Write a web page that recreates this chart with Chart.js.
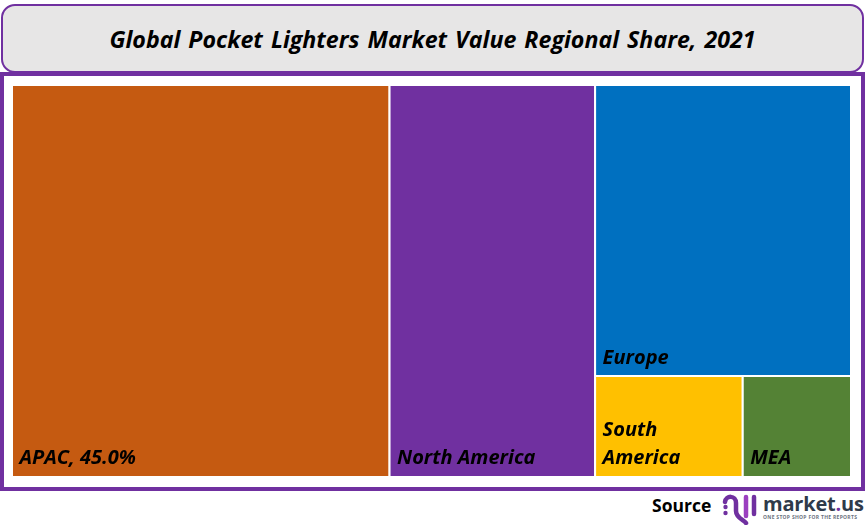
<!DOCTYPE html>
<html>
<head>
<meta charset="utf-8">
<title>Global Pocket Lighters Market Value Regional Share, 2021</title>
<script src="https://cdn.jsdelivr.net/npm/chart.js@4"></script>
<style>
  html, body { margin: 0; padding: 0; background: #fff; width: 865px; height: 525px; overflow: hidden; }
  body { position: relative; font-family: "Open Sans", sans-serif; }
  #titleBox { position: absolute; left: 1px; top: 4px; width: 859px; height: 65px; border: 2px solid #7030A0;
    border-radius: 14px; background: #E7E6E6; text-align: center; line-height: 67px;
    font-size: 23.2px; font-weight: 700; font-style: italic; color: #000; word-spacing: 2px; }
  #frame { position: absolute; left: 0; top: 72px; width: 857px; height: 411px; border: 4px solid #7030A0; }
  #chartWrap { position: absolute; left: 12px; top: 85px; width: 839px; height: 391px; }
  #source { position: absolute; left: 652px; top: 493px; font-size: 17.5px; font-weight: 700; color: #000; }
  #logo { position: absolute; left: 722px; top: 492px; }
  #brand { position: absolute; left: 763px; top: 490px; font-size: 20px; font-weight: 700; color: #2f3a4a; letter-spacing: -0.2px; }
  #brand span { color: #7030A0; }
  #tag { position: absolute; left: 763px; top: 514px; font-size: 5px; font-weight: 700; color: #6b7280; letter-spacing: 0.3px; white-space: nowrap; }
</style>
</head>
<body>
<div id="titleBox">Global Pocket Lighters Market Value Regional Share, 2021</div>
<div id="frame"></div>
<div id="chartWrap"><canvas id="treeChart"></canvas></div>
<div id="source">Source</div>
<svg id="logo" width="38" height="34" viewBox="0 0 38 34">
  <circle cx="3.5" cy="15" r="2.2" fill="#7030A0"/>
  <circle cx="3.5" cy="21" r="2.2" fill="#7030A0"/>
  <path d="M3 10 C4 3 14 3 14 11 V19 C14 26 22 28 24 31" fill="none" stroke="#7030A0" stroke-width="4.5" stroke-linecap="round"/>
  <path d="M24 5 V24" fill="none" stroke="#9b3fc0" stroke-width="4.5" stroke-linecap="round"/>
  <path d="M32 5 V22" fill="none" stroke="#7030A0" stroke-width="4.5" stroke-linecap="round"/>
</svg>
<div id="brand">market<span>.</span>us</div>
<div id="tag">ONE STOP SHOP FOR THE REPORTS</div>

<script>
// Share of market value per region
var regions = ['APAC', 'North America', 'Europe', 'South America', 'MEA'];
var shares = [45.0, 24.5, 22.7, 4.5, 3.3];
var colors = ['#C55A11', '#7030A0', '#0070C0', '#FFC000', '#548235'];
var labelLines = [['APAC, 45.0%'], ['North America'], ['Europe'], ['South', 'America'], ['MEA']];

// Work out each tile in share space: two full columns, then Europe over South America + MEA
function buildTiles() {
    var total = shares.reduce(function (a, b) { return a + b; }, 0);
    var apacEnd = shares[0] / total * 100;
    var naEnd = apacEnd + shares[1] / total * 100;
    var restShare = shares[2] + shares[3] + shares[4];
    var europeBottom = 100 - shares[2] / restShare * 100;
    var saEnd = naEnd + shares[3] / (shares[3] + shares[4]) * (100 - naEnd);
    return [
        { x0: 0, x1: apacEnd, y0: 0, y1: 100 },
        { x0: apacEnd, x1: naEnd, y0: 0, y1: 100 },
        { x0: naEnd, x1: 100, y0: europeBottom, y1: 100 },
        { x0: naEnd, x1: saEnd, y0: 0, y1: europeBottom },
        { x0: saEnd, x1: 100, y0: 0, y1: europeBottom }
    ];
}

var tiles = buildTiles();

// Filler needs x to keep going forward, so each tile is an open left-top-right path.
// The top border of the lower tiles gives the white gap under Europe.
var datasets = regions.map(function (name, i) {
    var t = tiles[i];
    return {
        label: name,
        data: [
            { x: t.x0, y: t.y0 },
            { x: t.x0, y: t.y1 },
            { x: t.x1, y: t.y1 },
            { x: t.x1, y: t.y0 }
        ],
        showLine: true,
        fill: { value: t.y0 },
        backgroundColor: colors[i],
        borderColor: '#ffffff',
        borderWidth: 2,
        pointRadius: 0,
        tension: 0,
        order: regions.length - i
    };
});

// Tile labels sit in the bottom left corner of each tile
var tileLabels = {
    id: 'tileLabels',
    afterDatasetsDraw: function (chart) {
        var ctx = chart.ctx;
        var xs = chart.scales.x, ys = chart.scales.y;
        ctx.save();
        ctx.font = 'italic 700 20px "Open Sans", sans-serif';
        ctx.fillStyle = '#000';
        ctx.textAlign = 'left';
        ctx.textBaseline = 'alphabetic';
        labelLines.forEach(function (lines, i) {
            var left = xs.getPixelForValue(tiles[i].x0) + 7.5;
            var bottom = ys.getPixelForValue(tiles[i].y0) - 12;
            lines.forEach(function (line, j) {
                ctx.fillText(line, left, bottom - (lines.length - 1 - j) * 28);
            });
        });
        ctx.restore();
    }
};

new Chart(document.getElementById('treeChart'), {
    type: 'scatter',
    data: { datasets: datasets },
    plugins: [tileLabels],
    options: {
        responsive: true,
        maintainAspectRatio: false,
        animation: false,
        layout: { padding: 0 },
        plugins: {
            legend: { display: false },
            tooltip: { enabled: false },
            title: { display: false }
        },
        scales: {
            x: { type: 'linear', min: 0, max: 100, display: false },
            y: { type: 'linear', min: 0, max: 100, display: false }
        }
    }
});
</script>
</body>
</html>
